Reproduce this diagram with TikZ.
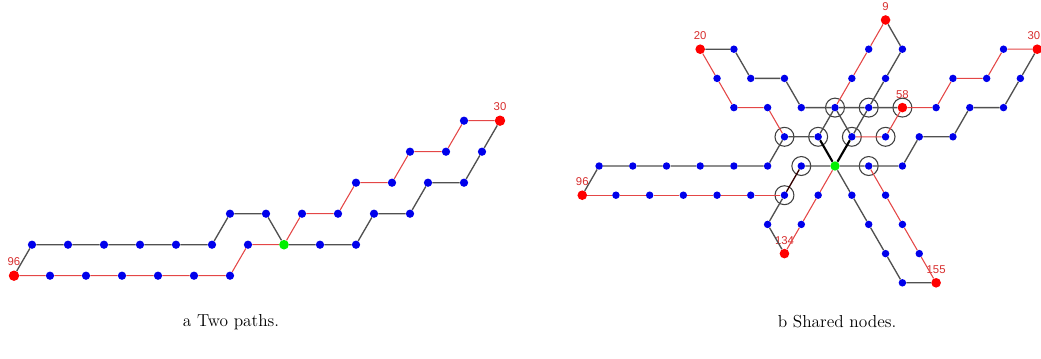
\documentclass[tikz,border=0pt]{standalone}
\usepackage{fontspec}
\newfontfamily\labfont{Liberation Sans}
\definecolor{dotblue}{RGB}{0,0,235}
\definecolor{endred}{RGB}{255,0,0}
\definecolor{midgreen}{RGB}{0,240,0}
\definecolor{edgegray}{RGB}{80,80,80}
\definecolor{edgered}{RGB}{228,70,70}
\definecolor{labred}{RGB}{215,45,45}
\tikzset{
  dot/.style={circle, fill=dotblue, inner sep=0pt, minimum size=#1},
  dot/.default=6.2pt,
  endpt/.style={circle, fill=endred, inner sep=0pt, minimum size=#1},
  endpt/.default=7.8pt,
  centre/.style={circle, fill=midgreen, inner sep=0pt, minimum size=#1},
  centre/.default=7.2pt,
  ring/.style={circle, draw=black!75, line width=0.8pt, inner sep=0pt, minimum size=14.2pt},
  numlab/.style={text=labred, font=\labfont\fontsize{8.5}{9}\selectfont, inner sep=0pt, label distance=3pt},
  gline/.style={edgegray, line width=1pt},
  rline/.style={edgered, line width=0.8pt},
  dline/.style={black, line width=1.6pt},
  caption/.style={font=\fontsize{13}{15}\selectfont, inner sep=0pt}
}
\begin{document}
\begin{tikzpicture}[x=0.75pt,y=-0.75pt]
  \useasboundingbox (0,0) rectangle (1041,358);
  % (a) two paths, green node at (284,244.7)
  \foreach \i/\j in {-14/0,-12/0,-10/0,-8/0,-6/0,-4/0,-3/1,-1/1,2/0,4/0,5/1,7/1,8/2,10/2,11/3,
                     -13/-1,-11/-1,-9/-1,-7/-1,-5/-1,-3/-1,-2/0,1/1,3/1,4/2,6/2,7/3,9/3,10/4}
    \node[dot] (a\i_\j) at ({284+18*\i},{244.7-31*\j}) {};
  \node[centre] (a0_0) at (284,244.7) {};
  \node[endpt, label={[numlab]above:96}] (a-15_-1) at ({284-18*15},{244.7+31}) {};
  \node[endpt, label={[numlab]above:30}] (a12_4) at ({284+18*12},{244.7-31*4}) {};
  \draw[gline] (a-15_-1) -- (a-14_0) -- (a-12_0) -- (a-10_0) -- (a-8_0) -- (a-6_0) -- (a-4_0)
    -- (a-3_1) -- (a-1_1) -- (a0_0) -- (a2_0) -- (a4_0) -- (a5_1) -- (a7_1) -- (a8_2) -- (a10_2)
    -- (a11_3) -- (a12_4);
  \draw[rline] (a-15_-1) -- (a-13_-1) -- (a-11_-1) -- (a-9_-1) -- (a-7_-1) -- (a-5_-1) -- (a-3_-1)
    -- (a-2_0) -- (a0_0) -- (a1_1) -- (a3_1) -- (a4_2) -- (a6_2) -- (a7_3) -- (a9_3) -- (a10_4)
    -- (a12_4);
  \node[caption] (capa) at (231,322) {a Two paths.};

  % (b) shared nodes, green node at (835,166)
  \foreach \i/\j in {-6/4,2/4,4/4,10/4,
                     -7/3,-5/3,-3/3,1/3,3/3,7/3,9/3,11/3,
                     -6/2,-4/2,-2/2,0/2,2/2,6/2,8/2,10/2,
                     -3/1,-1/1,1/1,3/1,5/1,7/1,
                     -14/0,-12/0,-10/0,-8/0,-6/0,-4/0,-2/0,2/0,4/0,
                     -13/-1,-11/-1,-9/-1,-7/-1,-5/-1,-3/-1,-1/-1,1/-1,3/-1,
                     -4/-2,-2/-2,2/-2,4/-2,3/-3,5/-3,4/-4}
    \node[dot=5.6pt] (b\i_\j) at ({835+16.85*\i},{166-29.2*\j}) {};
  \node[centre=7pt] (b0_0) at (835,166) {};
  \foreach \i/\j/\lab in {-8/4/20,3/5/9,4/2/58,-15/-1/96,-3/-3/134,6/-4/155}
    \node[endpt=7.2pt, label={[numlab]above:\lab}] (b\i_\j) at ({835+16.85*\i},{166-29.2*\j}) {};
  \node[endpt=7.2pt, label={[numlab, xshift=-2.5pt]above:30}] (b12_4) at ({835+16.85*12},{166-29.2*4}) {};
  \foreach \i/\j in {0/2,2/2,4/2,-3/1,-1/1,1/1,3/1,-2/0,2/0,-3/-1}
    \node[ring] (r\i_\j) at (b\i_\j) {};
  \draw[gline] (b-15_-1) -- (b-14_0) -- (b-12_0) -- (b-10_0) -- (b-8_0) -- (b-6_0) -- (b-4_0)
    -- (b-3_1) -- (b-1_1) -- (b0_2) -- (b1_1);
  \draw[gline] (b-3_-3) -- (b-4_-2) -- (b-3_-1);
  \draw[gline] (b-2_0) -- (b0_0) -- (b2_0) -- (b4_0) -- (b5_1) -- (b7_1) -- (b8_2) -- (b10_2)
    -- (b11_3) -- (b12_4);
  \draw[gline] (b0_0) -- (b1_-1) -- (b2_-2) -- (b3_-3) -- (b4_-4) -- (b6_-4);
  \draw[gline] (b-8_4) -- (b-6_4) -- (b-5_3) -- (b-3_3) -- (b-2_2) -- (b0_2) -- (b2_2) -- (b4_2);
  \draw[gline] (b3_5) -- (b4_4) -- (b3_3) -- (b2_2) -- (b1_1);
  \draw[dline] (b-1_1) -- (b0_0) -- (b1_1);
  \draw[black!80!red, line width=1pt] (b-3_-1) -- (b-2_0);
  \draw[rline] (b-15_-1) -- (b-13_-1) -- (b-11_-1) -- (b-9_-1) -- (b-7_-1) -- (b-5_-1) -- (b-3_-1);
  \draw[rline] (b-3_-3) -- (b-2_-2) -- (b-1_-1) -- (b0_0);
  \draw[rline] (b6_-4) -- (b5_-3) -- (b4_-2) -- (b3_-1) -- (b2_0);
  \draw[rline] (b12_4) -- (b10_4) -- (b9_3) -- (b7_3) -- (b6_2) -- (b4_2) -- (b3_1) -- (b1_1);
  \draw[rline] (b3_5) -- (b2_4) -- (b1_3) -- (b0_2);
  \draw[rline] (b-8_4) -- (b-7_3) -- (b-6_2) -- (b-4_2) -- (b-3_1);
  \node[caption] (capb) at (837,322) {b Shared nodes.};
\end{tikzpicture}
\end{document}
